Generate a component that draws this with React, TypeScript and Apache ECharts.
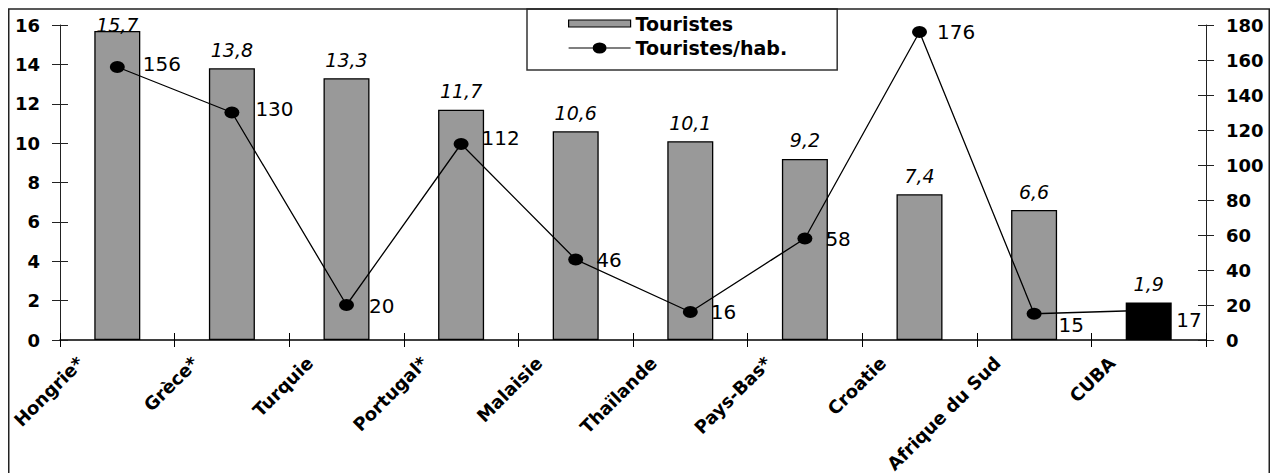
import React, { useEffect, useRef } from 'react';
import * as echarts from 'echarts';

const categories = ['Hongrie*', 'Grèce*', 'Turquie', 'Portugal*', 'Malaisie', 'Thaïlande', 'Pays-Bas*', 'Croatie', 'Afrique du Sud', 'CUBA'];
const touristes = [15.7, 13.8, 13.3, 11.7, 10.6, 10.1, 9.2, 7.4, 6.6, 1.9];
const touristesParHab = [156, 130, 20, 112, 46, 16, 58, 176, 15, 17];
const leftAxisMax = 16;
const leftAxisStep = 2;
const rightAxisMax = 180;
const rightAxisStep = 20;
const highlighted = 'CUBA';

// label nudges (style only)
const lineLabelShift = [[5, -3], [3, -4], [2, 1], [0, -6], [0, 0], [0, 0], [0, 0], [-3, 0], [4, 11], [7, 10]];
const barLabelShift = [[0, 13], [0, 0], [0, 0], [0, 0], [0, 0], [0, 0], [0, 0], [0, 0], [0, 0], [0, 0]];

const FONT = '"DejaVu Sans", sans-serif';
const ELLIPSE = 'path://M0,6 A7.5,6 0 1,1 15,6 A7.5,6 0 1,1 0,6 Z';
const BAR_ICON = 'path://M0,0 M0,2.5 L62,2.5 L62,9.5 L0,9.5 Z M62,12';
const LINE_ICON = 'path://M0,0 M0,5.4 L24,5.4 L24,6.6 L0,6.6 Z M38,5.4 L62,5.4 L62,6.6 L38,6.6 Z M24,6 A7,5.5 0 1,1 38,6 A7,5.5 0 1,1 24,6 Z M62,12';

export default function App() {
  const ref = useRef<HTMLDivElement>(null);
  useEffect(() => {
    if (!ref.current) return;
    const chart = echarts.init(ref.current, undefined, { renderer: 'svg' });
    const yBase = (pos: 'left' | 'right', max: number, step: number, inside: boolean) => ({
      type: 'value',
      position: pos,
      min: 0,
      max,
      interval: step,
      splitLine: { show: false },
      axisLine: { show: !inside, lineStyle: { color: '#222', width: 1 } },
      axisTick: { show: true, inside, length: 8, lineStyle: { color: '#222', width: 1 } },
      axisLabel: inside
        ? { show: false }
        : { show: true, margin: 20, color: '#000', fontFamily: FONT, fontWeight: 'bold', fontSize: 18 },
    });
    const xBase = (inside: boolean) => ({
      type: 'category',
      position: 'bottom',
      data: categories,
      boundaryGap: true,
      axisLine: { show: !inside, onZero: false, lineStyle: { color: '#000', width: 1.5 } },
      axisTick: { show: true, inside, length: 7, interval: 0, lineStyle: { color: '#000', width: 1 } },
      axisLabel: inside
        ? { show: false }
        : {
            show: true,
            interval: 0,
            rotate: 45,
            margin: -17,
            padding: [0, 52, 0, 0],
            color: '#000',
            fontFamily: FONT,
            fontWeight: 'bold',
            fontSize: 18,
          },
    });
    chart.setOption({
      animation: false,
      backgroundColor: '#fff',
      grid: { left: 52, top: 17, width: 1146, height: 315, containLabel: false, outerBoundsMode: 'none' },
      legend: {
        orient: 'vertical',
        left: 519,
        top: 1,
        padding: [2.5, 50, 10, 41],
        itemGap: 0.5,
        itemWidth: 62,
        itemHeight: 12,
        borderColor: '#333',
        borderWidth: 1.5,
        backgroundColor: '#fff',
        textStyle: { fontFamily: FONT, fontWeight: 'bold', fontSize: 19, color: '#000', lineHeight: 24 },
        data: [
          { name: 'Touristes', icon: BAR_ICON, itemStyle: { color: '#999999', borderColor: '#000', borderWidth: 1.2 } },
          { name: 'Touristes/hab.', icon: LINE_ICON, itemStyle: { color: '#000', borderWidth: 0 } },
        ],
      },
      xAxis: [xBase(false), xBase(true)],
      yAxis: [
        yBase('left', leftAxisMax, leftAxisStep, false),
        yBase('right', rightAxisMax, rightAxisStep, false),
        yBase('left', leftAxisMax, leftAxisStep, true),
        yBase('right', rightAxisMax, rightAxisStep, true),
      ],
      graphic: [
        {
          type: 'rect',
          silent: true,
          z: 100,
          shape: { x: 0.75, y: 1, width: 1260.5, height: 520 },
          style: { fill: 'none', stroke: '#222', lineWidth: 1.5 },
        },
      ],
      series: [
        {
          name: 'Touristes',
          type: 'bar',
          xAxisIndex: 0,
          yAxisIndex: 0,
          barWidth: 46,
          data: touristes.map((v, i) => ({
            value: v,
            itemStyle: categories[i] === highlighted ? { color: '#000' } : undefined,
            label: { offset: barLabelShift[i] },
          })),
          itemStyle: { color: '#999999', borderColor: '#000', borderWidth: 1.3 },
          label: {
            show: true,
            position: 'top',
            distance: 9,
            color: '#000',
            fontFamily: FONT,
            fontStyle: 'italic',
            fontSize: 19,
            formatter: (p: any) => String(p.value).replace('.', ','),
          },
        },
        {
          name: 'Touristes/hab.',
          type: 'line',
          xAxisIndex: 0,
          yAxisIndex: 1,
          symbol: ELLIPSE,
          symbolSize: [15, 12],
          z: 3,
          lineStyle: { color: '#000', width: 1.3 },
          itemStyle: { color: '#000' },
          data: touristesParHab.map((v, i) => ({ value: v, label: { offset: lineLabelShift[i] } })),
          label: {
            show: true,
            position: 'right',
            distance: 13,
            color: '#000',
            fontFamily: FONT,
            fontSize: 20,
          },
        },
      ],
    });
    return () => chart.dispose();
  }, []);
  return (
    <div
      ref={ref}
      style={{ position: 'fixed', left: 8, top: 8, width: 1267, height: 465, background: '#fff' }}
    />
  );
}
